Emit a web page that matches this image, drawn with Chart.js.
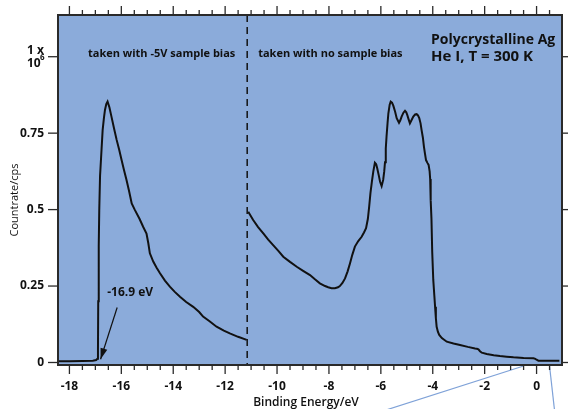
<!DOCTYPE html>
<html>
<head>
<meta charset="utf-8">
<script src="https://cdn.jsdelivr.net/npm/chart.js@4/dist/chart.umd.min.js"></script>
<style>
  html, body { margin: 0; padding: 0; background: #fff; }
  #wrap { width: 568px; height: 409px; }
</style>
</head>
<body>
<div id="wrap"><canvas id="chart"></canvas></div>
<script>
// spectrum taken with -5V sample bias (left part)
const biasEnergy = [-18.44, -18.0, -17.5, -17.1, -16.97, -16.92, -16.90, -16.89, -16.87, -16.85,
  -16.82, -16.76, -16.72, -16.67, -16.63, -16.58, -16.53, -16.46, -16.38, -16.28,
  -16.18, -16.08, -15.99, -15.90, -15.80, -15.70, -15.60, -15.48, -15.30, -15.16,
  -15.03, -14.96, -14.90, -14.77, -14.64, -14.51, -14.32, -14.13, -13.94, -13.74,
  -13.5, -13.23, -13.0, -12.85, -12.6, -12.33, -12.05, -11.82, -11.5, -11.17];
const biasCounts = [0.004, 0.004, 0.005, 0.006, 0.008, 0.012, 0.04, 0.2, 0.38, 0.50,
  0.61, 0.70, 0.76, 0.80, 0.826, 0.845, 0.853, 0.835, 0.804, 0.765,
  0.728, 0.695, 0.662, 0.63, 0.597, 0.56, 0.52, 0.499, 0.47, 0.444,
  0.422, 0.39, 0.357, 0.33, 0.31, 0.292, 0.268, 0.248, 0.231, 0.215,
  0.198, 0.182, 0.165, 0.15, 0.135, 0.117, 0.104, 0.095, 0.084, 0.074];

// spectrum taken with no sample bias (right part)
const noBiasEnergy = [-11.11, -10.92, -10.73, -10.53, -10.34, -10.15, -9.95, -9.76, -9.50, -9.24,
  -8.98, -8.73, -8.54, -8.35, -8.15, -8.03, -7.90, -7.77, -7.65, -7.58,
  -7.48, -7.38, -7.28, -7.19, -7.10, -7.0, -6.87, -6.74, -6.65, -6.57,
  -6.50, -6.45, -6.40, -6.34, -6.29, -6.23, -6.18, -6.14, -6.08, -6.03,
  -5.97, -5.91, -5.87, -5.84, -5.81, -5.78, -5.74, -5.71, -5.66, -5.62,
  -5.57, -5.52, -5.45, -5.39, -5.30, -5.25, -5.20, -5.13, -5.07, -5.02,
  -4.98, -4.93, -4.88, -4.82, -4.75, -4.68, -4.62, -4.57, -4.52, -4.47,
  -4.43, -4.38, -4.34, -4.30, -4.26, -4.20, -4.16, -4.12, -4.10, -4.08,
  -4.05, -4.02, -3.98, -3.94, -3.91, -3.88, -3.85, -3.80, -3.75, -3.65,
  -3.46, -3.2, -2.95, -2.65, -2.37, -2.30, -2.24, -2.18, -2.11, -1.92,
  -1.65, -1.41, -1.15, -0.89, -0.5, -0.12, -0.05, 0.0, 0.07, 0.3,
  0.6, 0.88];
const noBiasCounts = [0.493, 0.466, 0.443, 0.422, 0.402, 0.384, 0.365, 0.346, 0.329, 0.313,
  0.299, 0.286, 0.272, 0.259, 0.25, 0.246, 0.243, 0.243, 0.246, 0.25,
  0.26, 0.275, 0.298, 0.324, 0.352, 0.379, 0.397, 0.411, 0.425, 0.439,
  0.47, 0.51, 0.555, 0.595, 0.625, 0.653, 0.648, 0.635, 0.612, 0.591,
  0.577, 0.597, 0.625, 0.655, 0.70, 0.74, 0.785, 0.815, 0.843, 0.853,
  0.85, 0.84, 0.82, 0.799, 0.784, 0.792, 0.804, 0.817, 0.823, 0.818,
  0.809, 0.795, 0.782, 0.792, 0.804, 0.811, 0.812, 0.808, 0.799, 0.782,
  0.76, 0.735, 0.706, 0.683, 0.662, 0.652, 0.646, 0.625, 0.60, 0.531,
  0.47, 0.36, 0.27, 0.22, 0.182, 0.145, 0.117, 0.10, 0.09, 0.08,
  0.068, 0.062, 0.057, 0.051, 0.046, 0.045, 0.043, 0.037, 0.032, 0.028,
  0.024, 0.021, 0.019, 0.017, 0.015, 0.014, 0.012, 0.009, 0.006, 0.006,
  0.006, 0.006];

const xTicks = [-18, -16, -14, -12, -10, -8, -6, -4, -2, 0];
const yTicks = [0, 0.25, 0.5, 0.75, 1];
const biasSplit = -11.15;
const cutoff = { label: '-16.9 eV', tip: [-16.80, 0.0105], tail: [-16.16, 0.18] };

const plotBg = '#8babda';
const ink = '#111';
const fontFam = '"Open Sans", "DejaVu Sans", sans-serif';

const toPoints = (xs, ys) => xs.map((x, i) => ({ x: x, y: ys[i] }));

function line(ctx, x1, y1, x2, y2) {
  ctx.beginPath();
  ctx.moveTo(x1, y1);
  ctx.lineTo(x2, y2);
  ctx.stroke();
}

const decor = {
  id: 'decor',
  beforeDraw(chart) {
    const { ctx, chartArea: a } = chart;
    ctx.save();
    ctx.fillStyle = plotBg;
    ctx.fillRect(a.left, a.top, a.right - a.left, a.bottom - a.top);
    ctx.restore();
  },
  afterDatasetsDraw(chart) {
    const { ctx, chartArea: a, scales: { x, y } } = chart;
    ctx.save();
    // divider between the two measurements
    ctx.strokeStyle = ink;
    ctx.lineWidth = 1.5;
    ctx.setLineDash([7, 5]);
    const dx = x.getPixelForValue(biasSplit);
    line(ctx, dx, a.top, dx, a.bottom);
    ctx.setLineDash([]);

    // cutoff arrow
    const tx = x.getPixelForValue(cutoff.tip[0]), ty = y.getPixelForValue(cutoff.tip[1]);
    const sx = x.getPixelForValue(cutoff.tail[0]), sy = y.getPixelForValue(cutoff.tail[1]);
    ctx.lineWidth = 1.2;
    line(ctx, sx, sy, tx, ty);
    const ang = Math.atan2(ty - sy, tx - sx);
    ctx.beginPath();
    ctx.moveTo(tx, ty);
    ctx.lineTo(tx - 11 * Math.cos(ang) + 3.5 * Math.sin(ang), ty - 11 * Math.sin(ang) - 3.5 * Math.cos(ang));
    ctx.lineTo(tx - 11 * Math.cos(ang) - 3.5 * Math.sin(ang), ty - 11 * Math.sin(ang) + 3.5 * Math.cos(ang));
    ctx.closePath();
    ctx.fillStyle = ink;
    ctx.fill();

    // texts
    ctx.textBaseline = 'middle';
    ctx.textAlign = 'left';
    ctx.font = 'bold 11px ' + fontFam;
    ctx.fillText('taken with -5V sample bias', a.left + 30, a.top + 39);
    ctx.fillText('taken with no sample bias', dx + 11, a.top + 39);
    ctx.font = 'bold 12px ' + fontFam;
    ctx.fillText(cutoff.label, sx - 10, sy - 15);
    ctx.font = 'bold 14px ' + fontFam;
    ctx.fillText('Polycrystalline Ag', 431, a.top + 25);
    ctx.font = 'bold 15px ' + fontFam;
    ctx.fillText('He I, T = 300 K', 431, a.top + 42);
    ctx.restore();
  },
  afterDraw(chart) {
    const { ctx, chartArea: a, scales: { x, y } } = chart;
    ctx.save();
    // zoom callout lines
    ctx.strokeStyle = '#7fa2d8';
    ctx.lineWidth = 1.2;
    line(ctx, x.getPixelForValue(-0.5), a.bottom + 1, 386, 410);
    line(ctx, x.getPixelForValue(0.5), a.bottom + 1, 554.5, 410);

    // frame and ticks
    ctx.strokeStyle = '#2a2a2a';
    ctx.lineWidth = 2;
    ctx.strokeRect(a.left, a.top, a.right - a.left, a.bottom - a.top);
    ctx.lineWidth = 1.3;
    for (let v = -18; v <= 0.5; v += 0.5) {
      const px = x.getPixelForValue(v);
      const len = v % 2 === 0 ? 9 : 5;
      line(ctx, px, a.bottom, px, a.bottom + len);
      line(ctx, px, a.top, px, a.top - len);
    }
    yTicks.forEach(v => {
      const py = y.getPixelForValue(v);
      line(ctx, a.left - 10, py, a.left, py);
      line(ctx, a.right, py, a.right + 7, py);
    });

    // top label "1 x 10^6", written as in the original
    const p1 = y.getPixelForValue(1);
    ctx.fillStyle = ink;
    ctx.textAlign = 'left';
    ctx.textBaseline = 'middle';
    ctx.font = 'bold 12px ' + fontFam;
    ctx.fillText('1 x', 27, p1 - 6);
    ctx.fillText('10', 27, p1 + 7);
    ctx.font = 'bold 8px ' + fontFam;
    ctx.fillText('6', 40, p1 + 1);

    // axis titles
    ctx.font = '11px ' + fontFam;
    ctx.textAlign = 'center';
    ctx.save();
    ctx.translate(15, 200);
    ctx.rotate(-Math.PI / 2);
    ctx.fillText('Countrate/cps', 0, 0);
    ctx.restore();
    ctx.font = '600 12px ' + fontFam;
    ctx.fillText('Binding Energy/eV', 306, 403);
    ctx.restore();
  }
};

new Chart(document.getElementById('chart'), {
  type: 'scatter',
  data: {
    datasets: [
      {
        label: 'taken with -5V sample bias',
        data: toPoints(biasEnergy, biasCounts),
        showLine: true,
        borderColor: ink,
        borderWidth: 2,
        pointRadius: 0,
        tension: 0
      },
      {
        label: 'taken with no sample bias',
        data: toPoints(noBiasEnergy, noBiasCounts),
        showLine: true,
        borderColor: ink,
        borderWidth: 2,
        pointRadius: 0,
        tension: 0
      }
    ]
  },
  plugins: [decor],
  options: {
    responsive: true,
    maintainAspectRatio: false,
    animation: false,
    layout: { padding: { left: 0, top: 15, right: 6, bottom: 0 } },
    plugins: {
      legend: { display: false },
      tooltip: { enabled: false }
    },
    scales: {
      x: {
        type: 'linear',
        min: -18.44,
        max: 0.98,
        afterFit: (s) => { s.height = 44; },
        afterBuildTicks: (s) => { s.ticks = xTicks.map(v => ({ value: v })); },
        grid: { color: 'transparent', drawOnChartArea: false, tickLength: 9 },
        border: { display: false },
        ticks: {
          padding: 5,
          maxRotation: 0,
          color: ink,
          font: { family: fontFam, size: 12, weight: 'bold' },
          callback: (v) => String(v)
        }
      },
      y: {
        min: -0.0082,
        max: 1.1364,
        afterFit: (s) => { s.width = 58; },
        afterBuildTicks: (s) => { s.ticks = yTicks.map(v => ({ value: v })); },
        grid: { color: 'transparent', drawOnChartArea: false, tickLength: 10 },
        border: { display: false },
        ticks: {
          padding: 4,
          color: ink,
          font: { family: fontFam, size: 12, weight: 'bold' },
          callback: (v) => (v === 1 ? '' : String(v))
        }
      }
    }
  }
});
</script>
</body>
</html>
